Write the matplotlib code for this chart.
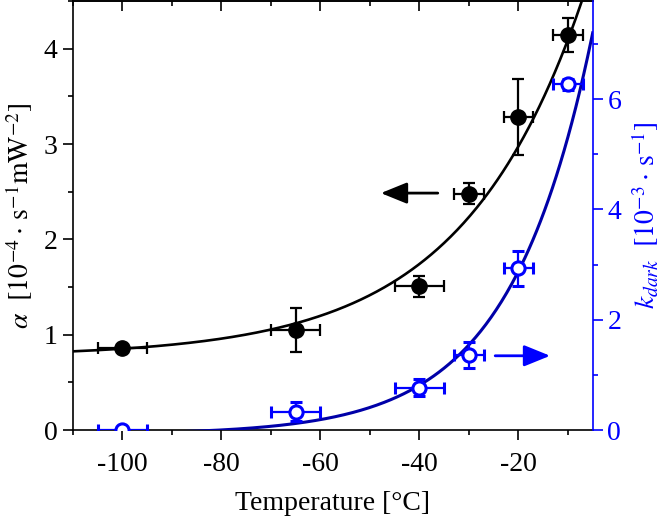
import numpy as np
import matplotlib
matplotlib.use('Agg')
import matplotlib.pyplot as plt
from matplotlib.ticker import MultipleLocator, NullFormatter

plt.rcParams['font.family'] = ['Liberation Serif', 'DejaVu Serif']
plt.rcParams['mathtext.fontset'] = 'stix'
plt.rcParams['axes.unicode_minus'] = False
plt.rcParams['font.size'] = 20

# measured points
temp = [-100, -65, -40, -30, -20, -10]
temp_err = [5, 5, 5, 3, 3, 3]
alpha = [0.86, 1.05, 1.51, 2.48, 3.28, 4.14]
alpha_err = [0.03, 0.23, 0.11, 0.11, 0.40, 0.18]
kdark = [0.0, 0.33, 0.77, 1.36, 2.93, 6.27]
kdark_err = [0.05, 0.17, 0.16, 0.24, 0.32, 0.10]

# exponential fits  y = y0 + A*exp(c*T)
alpha_fit = (0.77, 5.01, 0.041)
kdark_fit = (-0.08, 9.83, 0.060)

BLUE = '#0000ff'
CURVE_BLUE = '#0000a8'

fig = plt.figure(figsize=(6.66, 5.16), dpi=100)
ax = fig.add_axes([73 / 666, 86 / 516, 519.7 / 666, 429 / 516])
ax2 = ax.twinx()

T = np.linspace(-110, -5, 400)
y0, A, c = alpha_fit
ax.plot(T, y0 + A * np.exp(c * T), color='black', lw=1.9, zorder=2)
y0, A, c = kdark_fit
ax2.plot(T, y0 + A * np.exp(c * T), color=CURVE_BLUE, lw=2.2, zorder=2)

ax.errorbar(temp, alpha, xerr=temp_err, yerr=alpha_err, fmt='o', color='black',
            ms=11, capsize=4.5, capthick=1.6, elinewidth=1.6, zorder=3)
ax2.errorbar(temp, kdark, xerr=temp_err, yerr=kdark_err, fmt='o', color=BLUE,
             mfc='white', mec=BLUE, mew=2.2, ms=9.5, capsize=4.5, capthick=1.6,
             elinewidth=1.6, zorder=3)

# direction arrows
ax.annotate('', xy=(-47.8, 2.485), xytext=(-36.3, 2.485),
            arrowprops=dict(arrowstyle='-|>,head_length=1.6,head_width=0.65',
                            color='black', lw=2, mutation_scale=10,
                            shrinkA=0, shrinkB=0))
ax2.annotate('', xy=(-13.6, 1.346), xytext=(-24.7, 1.346),
             arrowprops=dict(arrowstyle='-|>,head_length=1.6,head_width=0.65',
                             color=BLUE, lw=2, mutation_scale=10,
                             shrinkA=0, shrinkB=0))

ax.set_xlim(-110, -5)
ax.set_ylim(0, 4.5)
ax2.set_ylim(0, 7.78)
ax.xaxis.set_major_locator(MultipleLocator(20))
ax.xaxis.set_minor_locator(MultipleLocator(10))
ax.yaxis.set_major_locator(MultipleLocator(1))
ax.yaxis.set_minor_locator(MultipleLocator(0.5))
ax2.yaxis.set_major_locator(MultipleLocator(2))
ax2.yaxis.set_minor_locator(MultipleLocator(1))

ax.tick_params(which='both', direction='out', width=1.2, labelsize=20, pad=4)
ax.tick_params(axis='x', which='both', pad=9)
ax.tick_params(which='major', length=7)
ax.tick_params(which='minor', length=3.6)
ax2.tick_params(which='both', direction='out', width=1.2, colors=BLUE, labelsize=20)
ax2.tick_params(which='major', length=7)
ax2.tick_params(which='minor', length=3.6)

top = ax.secondary_xaxis('top')
top.xaxis.set_major_locator(MultipleLocator(20))
top.xaxis.set_minor_locator(MultipleLocator(10))
top.xaxis.set_major_formatter(NullFormatter())
top.tick_params(which='both', direction='in', width=1.2)
top.tick_params(which='major', length=7)
top.tick_params(which='minor', length=3.6)

for s in ax.spines.values():
    s.set_linewidth(1.2)
ax.spines['right'].set_visible(False)
for name in ['left', 'top', 'bottom']:
    ax2.spines[name].set_visible(False)
ax2.spines['right'].set_color(BLUE)
ax2.spines['right'].set_linewidth(1.2)
top.spines['top'].set_linewidth(1.2)

ax.set_xlabel('Temperature [°C]', fontsize=20, labelpad=10)
ax.set_ylabel(r'$\alpha\ \ [10^{-4}\cdot\,\mathrm{s}^{-1}\mathrm{mW}^{-2}]$', fontsize=20, labelpad=6)
ax2.set_ylabel(r'$k_{dark}\ \ [10^{-3}\cdot\,\mathrm{s}^{-1}]$', fontsize=20, color=BLUE, labelpad=6)

fig.savefig('out.png', dpi=100)
